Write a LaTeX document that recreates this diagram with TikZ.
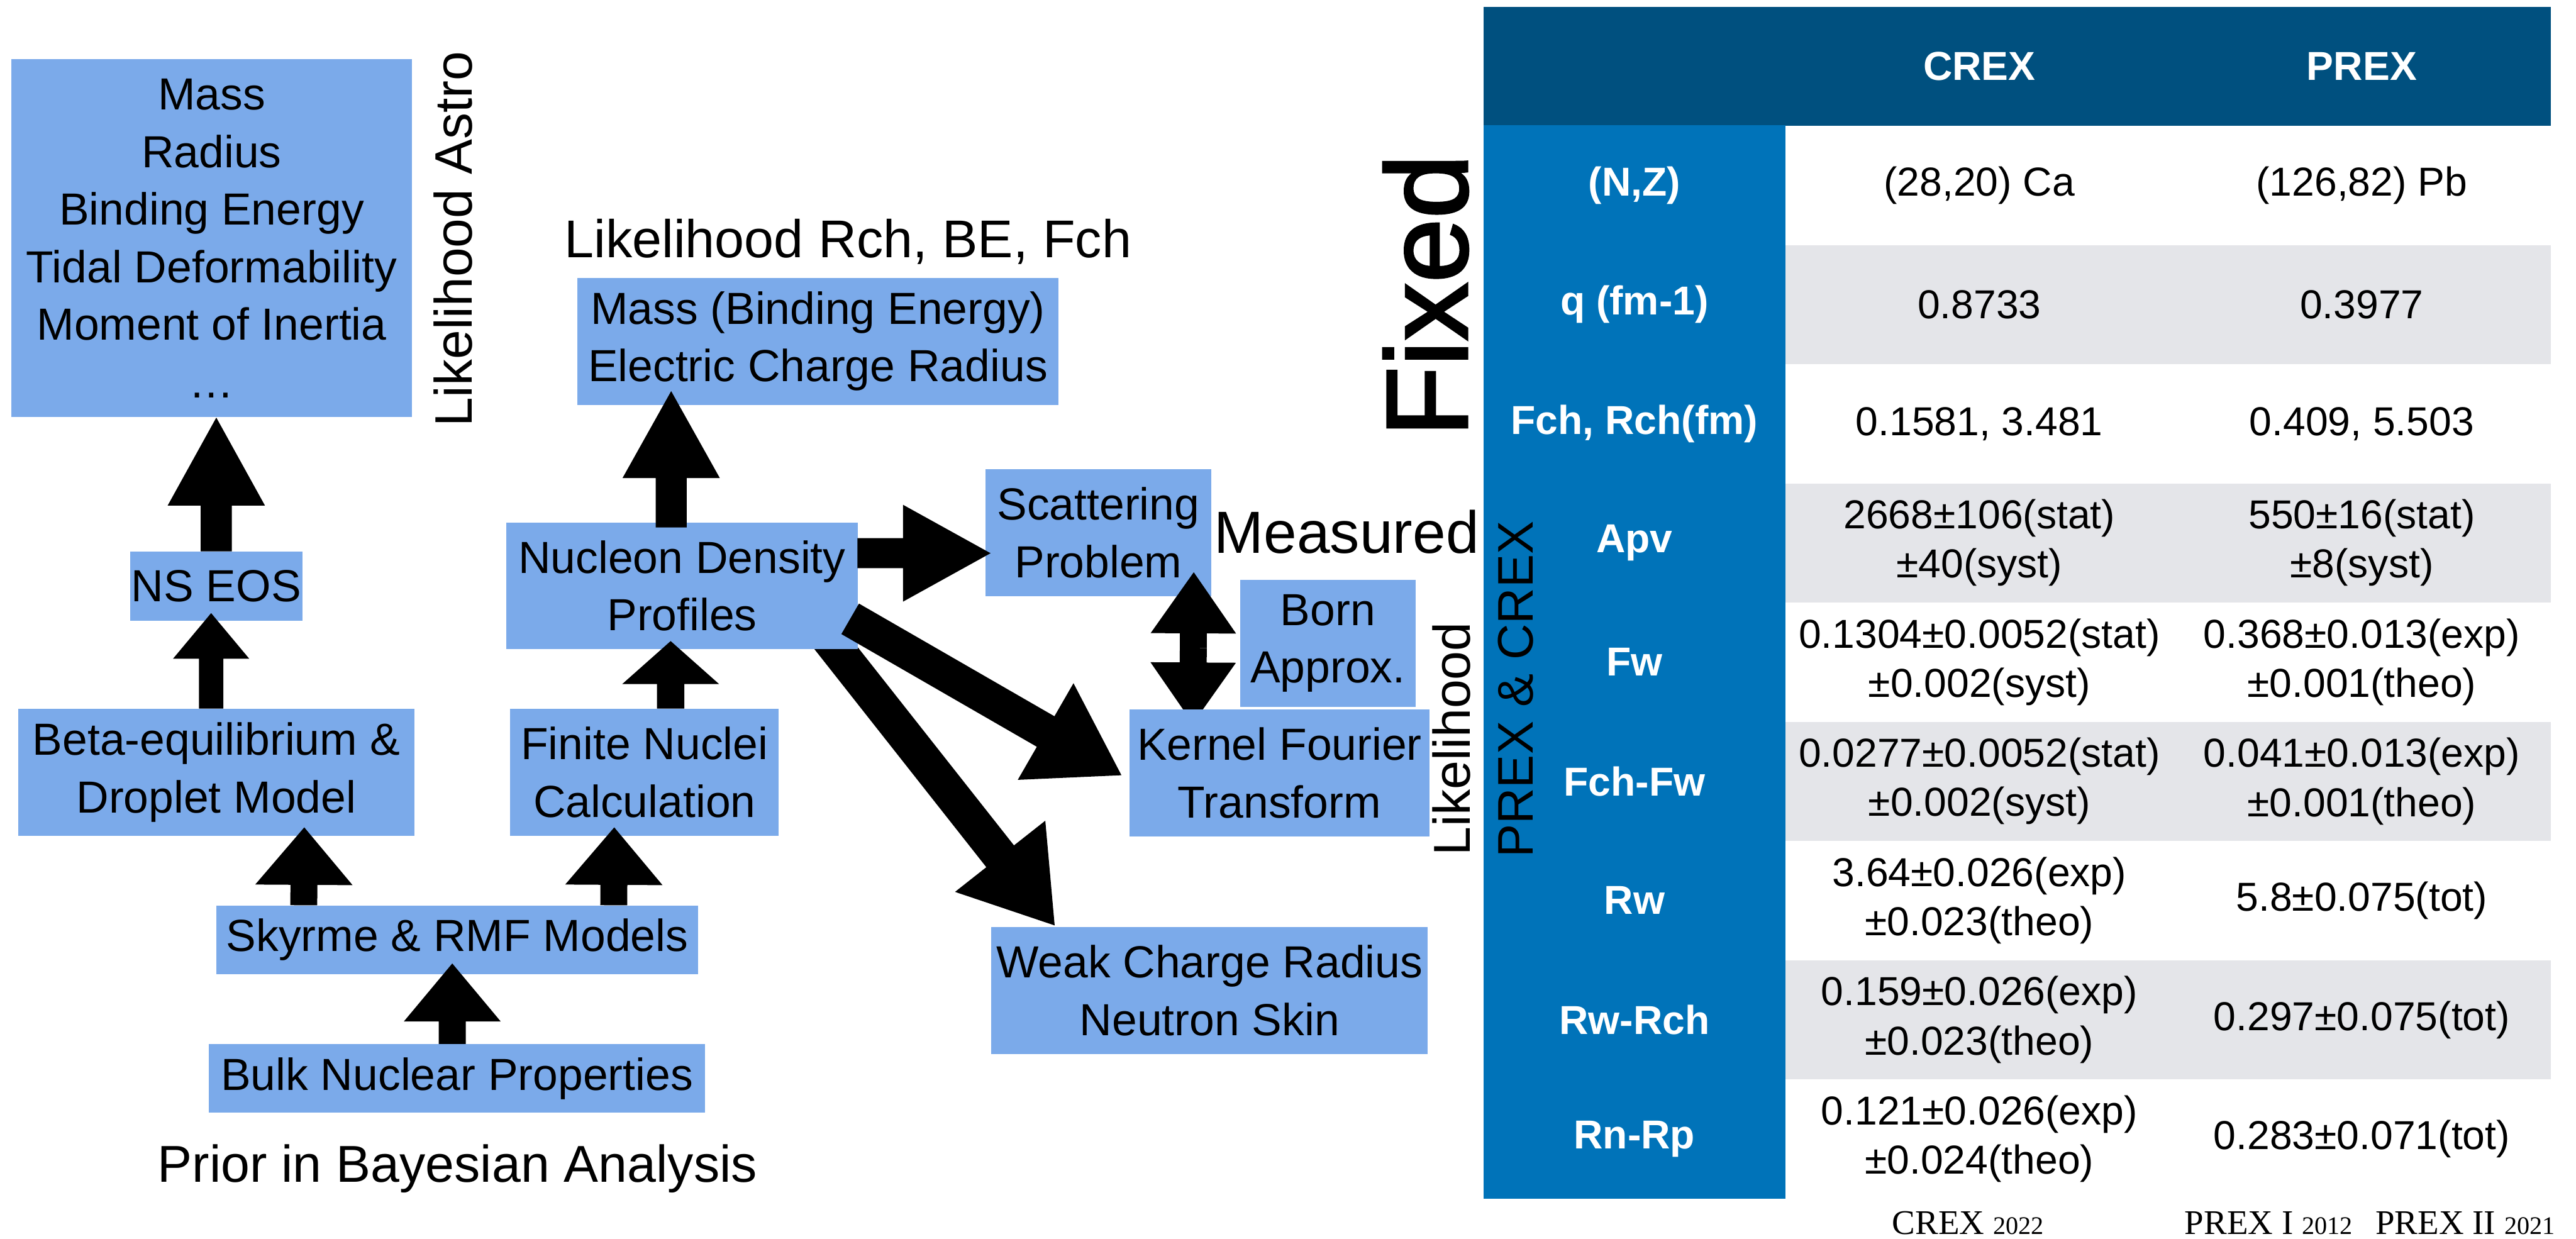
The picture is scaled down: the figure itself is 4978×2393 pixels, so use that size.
\documentclass[tikz,border=0pt]{standalone}
\usepackage{fontspec}
\setmainfont{Liberation Sans}
\newfontfamily\footserif{Liberation Serif}
\newfontfamily\fixedfont[FakeBold=2]{Liberation Sans}
\usetikzlibrary{calc}
\definecolor{boxblue}{HTML}{7BAAEA}
\definecolor{hdrblue}{HTML}{00507F}
\definecolor{colblue}{HTML}{0073B9}
\definecolor{greyrow}{HTML}{E4E5E9}
\pgfdeclarelayer{back}
\pgfdeclarelayer{mid}
\pgfsetlayers{back,mid,main}
\newcommand{\bxfont}{\fontsize{24.7}{31.6}\selectfont}
\newcommand{\tbfont}{\fontsize{22.2}{27}\selectfont}
% block arrow: start, tip, half shaft width, half head width, head length
\newcommand{\barrow}[5]{%
  \path (#1) coordinate (bA) (#2) coordinate (bB);
  \path ($(bB)!#5!(bA)$) coordinate (bH);
  \fill[black] ($(bA)!#3!90:(bB)$) -- ($(bH)!#3!-90:(bA)$) -- ($(bH)!#4!-90:(bA)$)
    -- (bB) -- ($(bH)!#4!90:(bA)$) -- ($(bH)!#3!90:(bA)$) -- ($(bA)!#3!-90:(bB)$) -- cycle;}
\tikzset{
  box/.style={fill=boxblue, inner sep=0pt, align=center, font=\bxfont, text=black},
  lbl/.style={inner sep=0pt, text=black},
  hdrtxt/.style={inner sep=0pt, text=white, font=\tbfont\bfseries},
  rowlbl/.style={inner sep=0pt, text=white, font=\tbfont\bfseries, align=center},
  cell/.style={inner sep=0pt, text=black, font=\tbfont, align=center},
  foot/.style={inner sep=0pt, anchor=base, font=\footserif\fontsize{19}{22}\selectfont}
}
\newcommand{\yr}[1]{{\fontsize{13.9}{16}\selectfont #1}}
\begin{document}
\begin{tikzpicture}[x=0.01cm,y=-0.01cm]
\useasboundingbox (0,0) rectangle (4978,2393);

% ---------- boxes ----------
\node[box, minimum width=7.74cm, minimum height=6.91cm] (astro) at (409,460.5)
  {Mass\\Radius\\Binding Energy\\Tidal Deformability\\Moment of Inertia\\…};
\node[box, minimum width=3.32cm, minimum height=1.33cm] (nseos) at (418,1132.5) {NS EOS};
\node[box, minimum width=7.66cm, minimum height=2.45cm] (beta) at (418,1492.5) {Beta-equilibrium \&\\Droplet Model};
\node[box, minimum width=5.19cm, minimum height=2.45cm] (finite) at (1245.5,1492.5) {Finite Nuclei\\Calculation};
\node[box, minimum width=9.31cm, minimum height=1.32cm] (skyrme) at (883.5,1816) {Skyrme \& RMF Models};
\node[box, minimum width=9.58cm, minimum height=1.32cm] (bulk) at (883,2084) {Bulk Nuclear Properties};
\node[box, minimum width=9.29cm, minimum height=2.45cm] (mass) at (1580.5,659.5) {Mass (Binding Energy)\\Electric Charge Radius};
\node[box, minimum width=6.78cm, minimum height=2.44cm] (nucleon) at (1318,1132) {Nucleon Density\\Profiles};
\begin{pgfonlayer}{back}
\node[box, minimum width=4.37cm, minimum height=2.45cm] (scatter) at (2122.5,1029.5) {Scattering\\Problem};
\end{pgfonlayer}
\node[box, minimum width=3.38cm, minimum height=2.46cm] (born) at (2566,1243) {Born\\Approx.};
\node[box, minimum width=5.79cm, minimum height=2.45cm] (kernel) at (2472.5,1493.5) {Kernel Fourier\\Transform};
\node[box, minimum width=8.43cm, minimum height=2.46cm] (weak) at (2337.5,1914) {Weak Charge Radius\\Neutron Skin};

% ---------- free labels ----------
\node[lbl, rotate=90, anchor=base, font=\fontsize{29}{34}\selectfont] (lastro) at (912,462) {Likelihood Astro};
\node[lbl, anchor=base west, font=\fontsize{29.2}{34}\selectfont] (lrch) at (1090,498) {Likelihood Rch, BE, Fch};
\node[lbl, anchor=base west, font=\fontsize{28.5}{34}\selectfont] (prior) at (304,2284) {Prior in Bayesian Analysis};
\node[lbl, anchor=base west, font=\fontsize{32.7}{38}\selectfont] (measured) at (2346,1069) {Measured};

% ---------- arrows ----------
\barrow{nseos.north}{nseos.north |- astro.south}{0.30cm}{0.94cm}{1.70cm}
\barrow{$(beta.north)+(-10,0)$}{$(nseos.south)+(-10,-15)$}{0.235cm}{0.735cm}{0.88cm}
\barrow{$(skyrme.north west)+(170,0)$}{$(beta.south)+(170,-17)$}{0.26cm}{0.94cm}{1.11cm}
\barrow{$(skyrme.north west)+(769,0)$}{$(finite.south)+(-58.5,-17)$}{0.26cm}{0.94cm}{1.11cm}
\barrow{$(bulk.north)+(-9,0)$}{$(skyrme.south)+(-9.5,-21)$}{0.26cm}{0.935cm}{1.12cm}
\barrow{$(finite.north)+(50.5,0)$}{$(nucleon.south)+(-22,-16)$}{0.265cm}{0.935cm}{0.83cm}
\barrow{$(nucleon.north)+(-21,10)$}{$(mass.south)+(-283.5,-27)$}{0.30cm}{0.94cm}{1.68cm}
\barrow{$(nucleon.east)+(-1,-63)$}{$(scatter.west)+(11,39.5)$}{0.29cm}{0.935cm}{1.69cm}
\barrow{$(nucleon.south east)+(-15,-59)$}{$(kernel.west)+(-15,4.5)$}{0.34cm}{1.077cm}{1.69cm}
\begin{pgfonlayer}{mid}
\barrow{$(nucleon.south east)+(-72,-40)$}{$(weak.north west)+(123,-2)$}{0.34cm}{1.11cm}{1.70cm}
\coordinate (dtop) at ($(scatter.south east)+(-35,-47)$);
\coordinate (dbot) at ($(kernel.north west)+(123,28)$);
\coordinate (dmid) at ($(dtop)!0.5!(dbot)$);
\barrow{dmid}{dtop}{0.26cm}{0.825cm}{1.18cm}
\barrow{dmid}{dbot}{0.26cm}{0.825cm}{1.18cm}
\end{pgfonlayer}

% ---------- table ----------
\node[fill=hdrblue, inner sep=0pt, minimum width=20.62cm, minimum height=2.29cm] (header) at (3898,128.5) {};
\node[fill=colblue, inner sep=0pt, minimum width=5.83cm, minimum height=20.73cm] (labcol) at (3158.5,1279.5) {};
\fill[greyrow] (3450,473.7) rectangle (4929,704.0);
\fill[greyrow] (3450,934.3) rectangle (4929,1164.7);
\fill[greyrow] (3450,1395.0) rectangle (4929,1625.3);
\fill[greyrow] (3450,1855.7) rectangle (4929,2086.0);

\node[hdrtxt] (hcrex) at (3825,128.5) {CREX};
\node[hdrtxt] (hprex) at (4564,128.5) {PREX};

\node[rowlbl] (l0) at (3158.5,358.2) {(N,Z)};
\node[rowlbl] (l1) at (3158.5,588.5) {q (fm-1)};
\node[rowlbl] (l2) at (3158.5,818.8) {Fch, Rch(fm)};
\node[rowlbl] (l3) at (3158.5,1049.2) {Apv};
\node[rowlbl] (l4) at (3158.5,1279.5) {Fw};
\node[rowlbl] (l5) at (3158.5,1509.8) {Fch-Fw};
\node[rowlbl] (l6) at (3158.5,1740.2) {Rw};
\node[rowlbl] (l7) at (3158.5,1970.5) {Rw-Rch};
\node[rowlbl] (l8) at (3158.5,2200.8) {Rn-Rp};

\node[cell] (c0) at (3825,358.2) {(28,20) Ca};
\node[cell] (p0) at (4564,358.2) {(126,82) Pb};
\node[cell] (c1) at (3825,588.5) {0.8733};
\node[cell] (p1) at (4564,588.5) {0.3977};
\node[cell] (c2) at (3825,818.8) {0.1581, 3.481};
\node[cell] (p2) at (4564,818.8) {0.409, 5.503};
\node[cell] (c3) at (3825,1049.2) {2668±106(stat)\\±40(syst)};
\node[cell] (p3) at (4564,1049.2) {550±16(stat)\\±8(syst)};
\node[cell] (c4) at (3825,1279.5) {0.1304±0.0052(stat)\\±0.002(syst)};
\node[cell] (p4) at (4564,1279.5) {0.368±0.013(exp)\\±0.001(theo)};
\node[cell] (c5) at (3825,1509.8) {0.0277±0.0052(stat)\\±0.002(syst)};
\node[cell] (p5) at (4564,1509.8) {0.041±0.013(exp)\\±0.001(theo)};
\node[cell] (c6) at (3825,1740.2) {3.64±0.026(exp)\\±0.023(theo)};
\node[cell] (p6) at (4564,1740.2) {5.8±0.075(tot)};
\node[cell] (c7) at (3825,1970.5) {0.159±0.026(exp)\\±0.023(theo)};
\node[cell] (p7) at (4564,1970.5) {0.297±0.075(tot)};
\node[cell] (c8) at (3825,2200.8) {0.121±0.026(exp)\\±0.024(theo)};
\node[cell] (p8) at (4564,2200.8) {0.283±0.071(tot)};

\node[foot] (f1) at (3803,2385) {CREX \yr{2022}};
\node[foot] (f2) at (4384,2385) {PREX I \yr{2012}};
\node[foot] (f3) at (4764,2385) {PREX II \yr{2021}};

% ---------- rotated side labels ----------
\node[lbl, rotate=90, anchor=base, font=\fixedfont\fontsize{63.5}{70}\selectfont] (fixed) at (2835,571) {Fixed};
\node[lbl, rotate=90, anchor=base, font=\fontsize{28.5}{34}\selectfont] (llik) at (2841,1428) {Likelihood};
\node[lbl, rotate=90, anchor=base, font=\fontsize{27.5}{32}\selectfont] (lpc) at (2962,1332) {PREX \& CREX};
\end{tikzpicture}
\end{document}
